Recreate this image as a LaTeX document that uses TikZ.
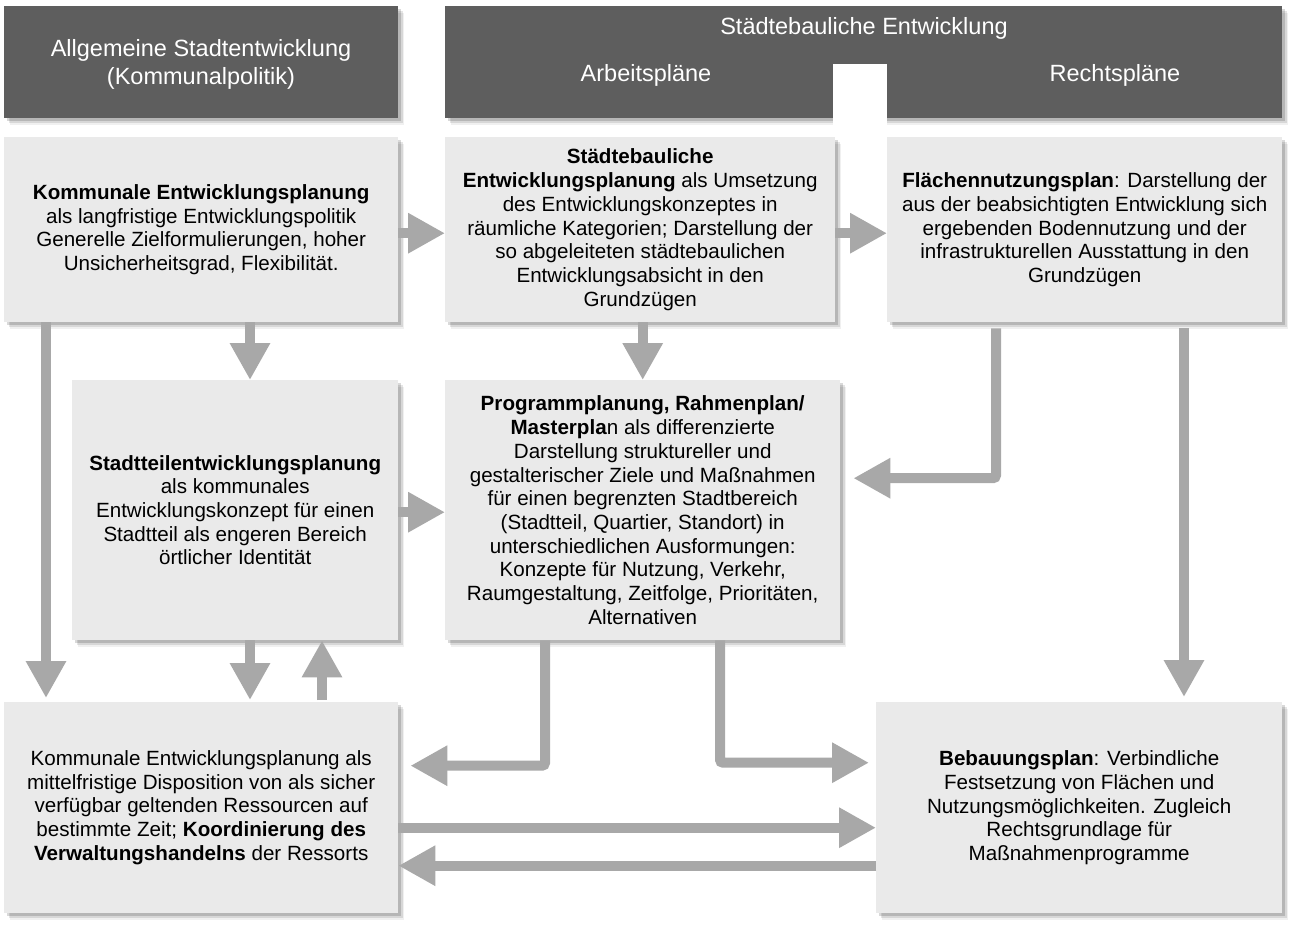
\documentclass[tikz,border=0pt]{standalone}
\usepackage{fontspec}
\setmainfont{Liberation Sans}
\usetikzlibrary{arrows.meta,shadows}

\definecolor{headgray}{HTML}{5E5E5E}
\definecolor{boxgray}{HTML}{EAEAEA}
\definecolor{arrgray}{HTML}{A8A8A8}

\tikzset{
    softshadow/.style={
        drop shadow={shadow xshift=6pt, shadow yshift=-7pt, fill=black, opacity=0.06},
        drop shadow={shadow xshift=4.5pt, shadow yshift=-5pt, fill=black, opacity=0.10},
        drop shadow={shadow xshift=3pt, shadow yshift=-3pt, fill=black, opacity=0.15}},
    headbox/.style={fill=headgray, text=white, anchor=north west, inner sep=0pt, align=center,
        softshadow, font=\fontsize{23.5}{28}\selectfont},
    headtext/.style={text=white, inner sep=0pt, font=\fontsize{23.5}{28}\selectfont},
    planbox/.style={fill=boxgray, anchor=north west, inner sep=0pt, align=center,
        softshadow, font=\fontsize{20.6}{23.7}\selectfont},
    conn/.style={draw=arrgray, line width=10pt, rounded corners=3pt,
        -{Triangle[width=38pt,length=37pt]}}
}

\begin{document}
\begin{tikzpicture}[x=1pt,y=-1pt]
    \path[fill=white,use as bounding box] (0,0) rectangle (1296,926);

    % Kopfzeile
    \node[headbox, minimum width=394pt, minimum height=112pt] (allg) at (4,6) {};
    \node[headtext, align=center] (allgt) at (201,64)
        {Allgemeine Stadtentwicklung\\(Kommunalpolitik)};
    \node[headbox, minimum width=837pt, minimum height=112pt] (stb) at (445,6) {};
    \fill[white] (833,64) rectangle (887,137);
    \node[headtext] (stbt) at (864,28) {Städtebauliche Entwicklung};
    \node[headtext] (arb) at (646,75) {Arbeitspläne};
    \node[headtext] (recht) at (1115,75) {Rechtspläne};

    % Planungsebenen
    \node[planbox, minimum width=394pt, minimum height=185pt] (kep) at (4,137)
        {\textbf{Kommunale Entwicklungsplanung}\\
         als langfristige Entwicklungspolitik\\
         Generelle Zielformulierungen, hoher\\
         Unsicherheitsgrad, Flexibilität.};
    \node[planbox, minimum width=390pt, minimum height=185pt] (sep) at (445,137)
        {\textbf{Städtebauliche}\\
         \textbf{Entwicklungsplanung} als Umsetzung\\
         des Entwicklungskonzeptes in\\
         räumliche Kategorien; Darstellung der\\
         so abgeleiteten städtebaulichen\\
         Entwicklungsabsicht in den\\
         Grundzügen};
    \node[planbox, minimum width=395pt, minimum height=185pt] (fnp) at (887,137)
        {\textbf{Flächennutzungsplan}: Darstellung der\\
         aus der beabsichtigten Entwicklung sich\\
         ergebenden Bodennutzung und der\\
         infrastrukturellen Ausstattung in den\\
         Grundzügen};
    \node[planbox, minimum width=326pt, minimum height=260pt] (stp) at (72,380)
        {\textbf{Stadtteilentwicklungsplanung}\\
         als kommunales\\
         Entwicklungskonzept für einen\\
         Stadtteil als engeren Bereich\\
         örtlicher Identität};
    \node[planbox, minimum width=395pt, minimum height=260pt] (rp) at (445,380)
        {\textbf{Programmplanung, Rahmenplan/}\\
         \textbf{Masterpla}n als differenzierte\\
         Darstellung struktureller und\\
         gestalterischer Ziele und Maßnahmen\\
         für einen begrenzten Stadtbereich\\
         (Stadtteil, Quartier, Standort) in\\
         unterschiedlichen Ausformungen:\\
         Konzepte für Nutzung, Verkehr,\\
         Raumgestaltung, Zeitfolge, Prioritäten,\\
         Alternativen};
    \node[planbox, minimum width=394pt, minimum height=211pt] (mkep) at (4,702)
        {Kommunale Entwicklungsplanung als\\
         mittelfristige Disposition von als sicher\\
         verfügbar geltenden Ressourcen auf\\
         bestimmte Zeit; \textbf{Koordinierung des}\\
         \textbf{Verwaltungshandelns} der Ressorts};
    \node[planbox, minimum width=406pt, minimum height=211pt] (bp) at (876,702)
        {\textbf{Bebauungsplan}: Verbindliche\\
         Festsetzung von Flächen und\\
         Nutzungsmöglichkeiten. Zugleich\\
         Rechtsgrundlage für\\
         Maßnahmenprogramme};

    % Pfeile
    \draw[conn] ([yshift=-3.5pt]kep.east) -- ([yshift=-3.5pt]sep.west);
    \draw[conn] ([yshift=-3.5pt]sep.east) -- ([yshift=-3.5pt]fnp.west);
    \draw[conn] (kep.south -| 250,0) -- (stp.north -| 250,0);
    \draw[conn] (kep.south -| 46,0) -- ([yshift=4pt]mkep.north -| 46,0);
    \draw[conn] (sep.south -| rp.north) -- (rp.north);
    \draw[conn] ([yshift=-2pt]stp.east) -- ([yshift=-2pt]rp.west);
    \draw[conn] (stp.south -| 250,0) -- ([yshift=2pt]mkep.north -| 250,0);
    \draw[conn] ([yshift=2pt]mkep.north -| 322,0) -- (stp.south -| 322,0);
    \draw[conn] ([yshift=-6pt]fnp.south -| 996,0) |- ([xshift=13pt,yshift=32pt]rp.east);
    \draw[conn] ([yshift=-6pt]fnp.south -| 1184,0) -- ([yshift=5pt]bp.north -| 1184,0);
    \draw[conn] (rp.south -| 545,0) |- ([xshift=12pt,yshift=42pt]mkep.east);
    \draw[conn] (rp.south -| 720,0) |- ([xshift=-7pt,yshift=45pt]bp.west);
    \draw[conn] ([yshift=-20pt]mkep.east) -- ([yshift=-20pt]bp.west);
    \draw[conn] ([yshift=-58pt]bp.west) -- ([yshift=-58pt]mkep.east);
\end{tikzpicture}
\end{document}
